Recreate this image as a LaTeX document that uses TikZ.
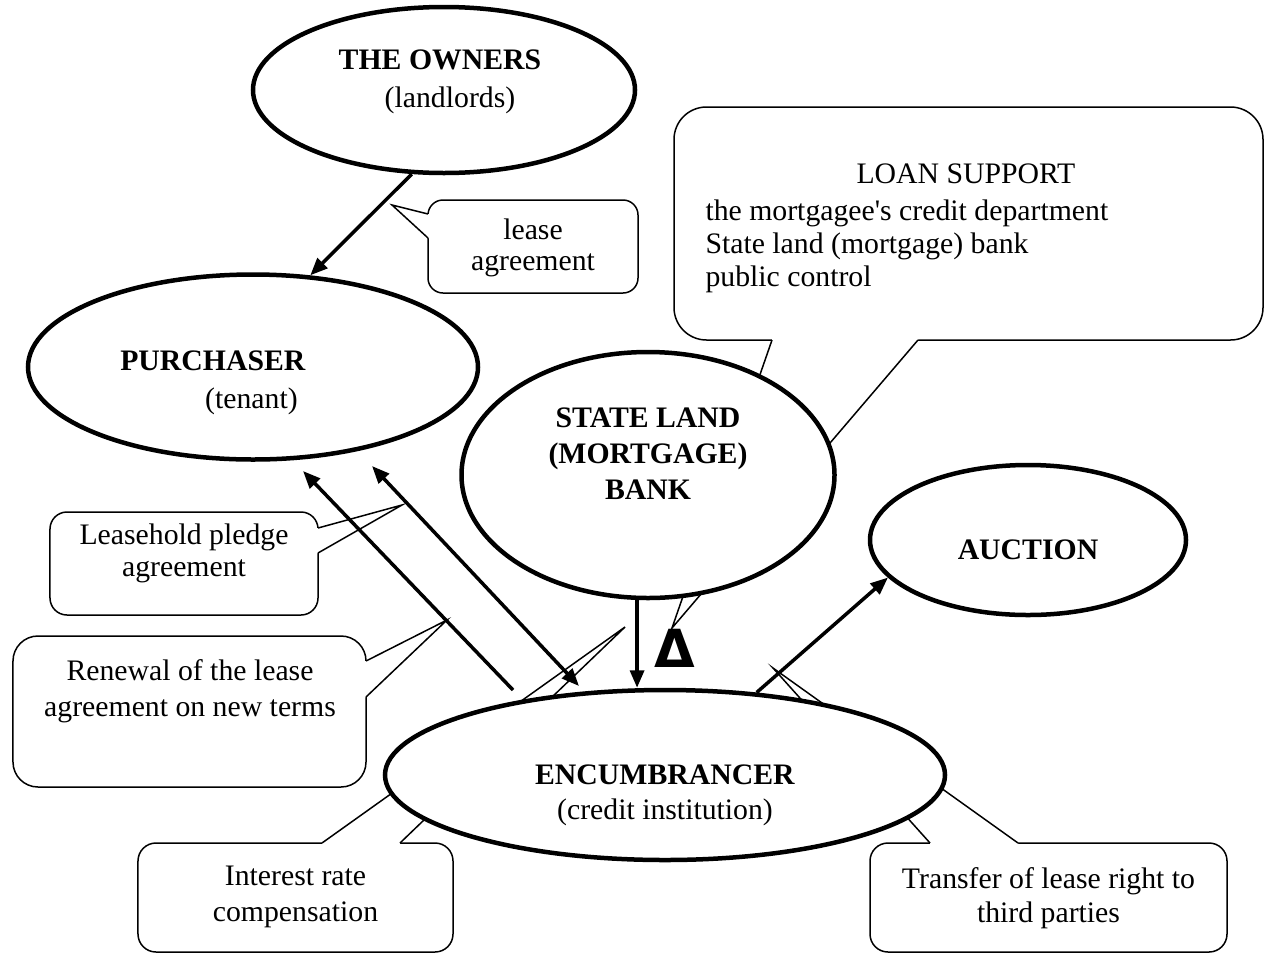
\documentclass[tikz,border=0pt]{standalone}
\usepackage{fontspec}
\setmainfont{Liberation Serif}
\newfontfamily\deltafont{DejaVu Sans}
\usetikzlibrary{shapes.geometric,arrows.meta}
\begin{document}
\begin{tikzpicture}[x=0.4pt,y=-0.4pt,
  ell/.style={ellipse, draw, line width=1.8pt, fill=white, inner sep=0pt},
  cbox/.style={rectangle, draw, line width=0.6pt, fill=white, inner sep=0pt},
  wedge/.style={line width=0.6pt, line join=miter},
  arr/.style={line width=1.4pt, -{Triangle[length=7pt,width=5.6pt]}},
  darr/.style={line width=1.4pt, {Triangle[length=7pt,width=5.6pt]}-{Triangle[length=7pt,width=5.6pt]}},
  txt/.style={font=\fontsize{11.9}{13.2}\selectfont, align=center, inner sep=0pt},
]
\useasboundingbox (0,0) rectangle (1265,954);

% ---------- callouts ----------
% lease agreement
\node[cbox, rounded corners=6pt, minimum width=84pt, minimum height=37.2pt] (leasebox) at (533,246.5) {};
\coordinate (leasetip) at (392,205);
\fill[white] (428,214) -- (leasetip) -- (428,238) -- (432,238) -- (432,214) -- cycle;
\draw[wedge] (428,214) -- (leasetip) -- (428,238);

% loan support
\node[cbox, rounded corners=13pt, minimum width=235.6pt, minimum height=93.2pt] (loanbox) at (968.5,223.5) {};
\coordinate (loantip) at (672,628);
\fill[white] (772,340) -- (loantip) -- (918,340) -- (918,336) -- (772,336) -- cycle;
\draw[wedge] (772,340) -- (loantip) -- (918,340);

% leasehold pledge agreement
\node[cbox, rounded corners=6.8pt, minimum width=107.2pt, minimum height=41.2pt] (pledgebox) at (184,563.5) {};
\coordinate (pledgetip) at (402,505);
\fill[white] (318,528) -- (pledgetip) -- (318,553) -- (314,553) -- (314,528) -- cycle;
\draw[wedge] (318,528) -- (pledgetip) -- (318,553);

% renewal
\node[cbox, rounded corners=10pt, minimum width=141.2pt, minimum height=60.4pt] (renewbox) at (189.5,711.5) {};
\coordinate (renewtip) at (447,620);
\fill[white] (366,661) -- (renewtip) -- (366,697) -- (362,697) -- (362,661) -- cycle;
\draw[wedge] (366,661) -- (renewtip) -- (366,697);

% interest rate compensation
\node[cbox, rounded corners=7.2pt, minimum width=126pt, minimum height=43.6pt] (interestbox) at (295.5,897.5) {};
\coordinate (interesttip) at (625,627);
\fill[white] (322,843) -- (interesttip) -- (400,843) -- (400,847) -- (322,847) -- cycle;
\draw[wedge] (322,843) -- (interesttip) -- (400,843);

% transfer of lease right
\node[cbox, rounded corners=7.2pt, minimum width=142.8pt, minimum height=43.6pt] (transferbox) at (1048.5,897.5) {};
\coordinate (transfertip) at (773,668);
\fill[white] (930,843) -- (transfertip) -- (1018,843) -- (1018,847) -- (930,847) -- cycle;
\draw[wedge] (930,843) -- (transfertip) -- (1018,843);

% ---------- ellipses ----------
\node[ell, minimum width=152.8pt, minimum height=66.4pt] (owners) at (444,90) {};
\node[ell, minimum width=180pt, minimum height=74pt] (purchaser) at (253,367) {};
\node[ell, minimum width=149.2pt, minimum height=98.4pt] (bank) at (648,475) {};
\node[ell, minimum width=126.4pt, minimum height=60pt] (auction) at (1028,540) {};
\node[ell, minimum width=224pt, minimum height=68pt] (enc) at (665,775) {};

% ---------- arrows ----------
\draw[arr] (owners.249) -- (purchaser.58);
\coordinate (a1s) at (513,690);
\coordinate (a1e) at (303,471);
\draw[arr] (a1s) -- (a1e);
\coordinate (a2s) at (372,466);
\coordinate (a2e) at (579,686);
\draw[darr] (a2s) -- (a2e);
\draw[arr] (bank.265) -- (bank.265 |- enc.north);
\draw[arr] (enc.42) -- (auction.195);

% ---------- texts ----------
\node[txt] (ownersT) at (440,82) {\textbf{THE OWNERS}\\[2pt]\hspace*{8pt}(landlords)};
\node[txt, align=right] (purT) at (213,383) {\textbf{PURCHASER}\\[2pt](tenant)\hspace*{3.2pt}};
\node[txt] (bankT) at (648,454) {\textbf{STATE LAND}\\[1.2pt]\textbf{(MORTGAGE)}\\[1.2pt]\textbf{BANK}};
\node[txt] (aucT) at (1028,550) {\textbf{AUCTION}};
\node[txt] (encT) at (665,795) {\textbf{ENCUMBRANCER}\\[0.8pt](credit institution)};

\node[txt] (leaseT) at (533,248) {lease\\[-0.8pt]agreement};
\node[txt, align=left, anchor=west] (loanT) at (705,228) {\hspace*{60.4pt}LOAN SUPPORT\\[1.6pt]the mortgagee\textquotesingle s credit department\\State land (mortgage) bank\\public control};
\node[txt] (pledgeT) at (184,553) {Leasehold pledge\\[-0.4pt]agreement};
\node[txt] (renewT) at (190,691) {Renewal of the lease\\[1.2pt]agreement on new terms};
\node[txt] (interestT) at (295.5,897) {Interest rate\\[1.2pt]compensation};
\node[txt] (transferT) at (1048.5,898) {Transfer of lease right to\\[0.4pt]third parties};

\node[inner sep=0pt, font={\deltafont\bfseries\fontsize{21}{21}\selectfont}] (delta) at (675,648) {Δ};
\end{tikzpicture}
\end{document}
